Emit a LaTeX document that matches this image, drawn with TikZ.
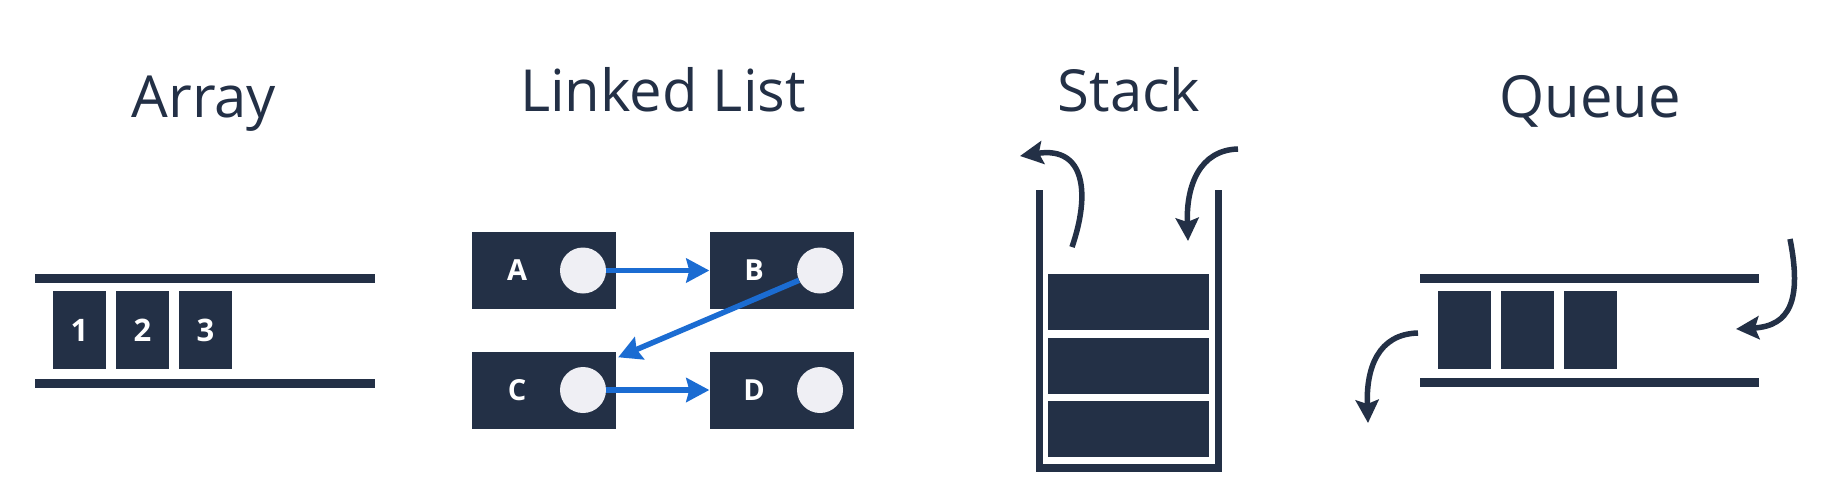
\documentclass[tikz,border=0pt]{standalone}
\usepackage{fontspec}
\setmainfont{Open Sans}
\usetikzlibrary{arrows.meta}
\definecolor{navy}{HTML}{233046}
\definecolor{linkblue}{HTML}{1B6CD2}
\definecolor{dotgray}{HTML}{EFEFF4}
\begin{document}
\begin{tikzpicture}[x=1pt,y=-1pt,
  title/.style={anchor=base,text=navy,font=\fontsize{58}{70}\selectfont},
  rail/.style={draw=navy,line width=9pt},
  wall/.style={draw=navy,line width=7.5pt,line join=miter},
  cell/.style={fill=navy,draw=none,inner sep=0pt,minimum width=53pt,minimum height=78pt,
    text=white,font=\bfseries\fontsize{31}{31}\selectfont},
  nodebox/.style={fill=navy,draw=none,inner sep=0pt,minimum width=144pt,minimum height=77pt},
  letter/.style={text=white,inner sep=0pt,font=\bfseries\fontsize{29}{29}\selectfont},
  dot/.style={circle,fill=dotgray,draw=none,inner sep=0pt,minimum size=46pt},
  stackbox/.style={fill=navy,draw=none,inner sep=0pt,minimum width=161pt,minimum height=56pt},
  link/.style={draw=linkblue,line width=5.5pt,-{Stealth[length=23pt,width=24pt,inset=3pt]}},
  flow/.style={draw=navy,line width=5.5pt,-{Stealth[length=23pt,width=23pt,inset=4pt]}}
]
\useasboundingbox (0,0) rectangle (1830,496);
\fill[white] (0,0) rectangle (1830,496);

% titles
\node[title] (tArray) at (204,117) {Array};
\node[title] (tList) at (663,111) {Linked List};
\node[title] (tStack) at (1129,111) {Stack};
\node[title] (tQueue) at (1590,117) {Queue};

% array
\coordinate (arTL) at (35,278); \coordinate (arTR) at (375,278);
\coordinate (arBL) at (35,383); \coordinate (arBR) at (375,383);
\draw[rail] (arTL) -- (arTR);
\draw[rail] (arBL) -- (arBR);
\node[cell] (a1) at (79.5,330) {1};
\node[cell] (a2) at (142.5,330) {2};
\node[cell] (a3) at (205.5,330) {3};

% linked list
\node[nodebox] (boxA) at (544,270.5) {};
\node[nodebox] (boxB) at (781.5,270.5) {};
\node[nodebox] (boxC) at (544,390) {};
\node[nodebox] (boxD) at (781.5,390) {};
\node[letter] (lA) at (517,270.5) {A};
\node[letter] (lB) at (754,270.5) {B};
\node[letter] (lC) at (517,390) {C};
\node[letter] (lD) at (754,390) {D};
\node[dot] (cA) at (583,270.5) {};
\node[dot] (cB) at (820,270.5) {};
\node[dot] (cC) at (583,390) {};
\node[dot] (cD) at (820,390) {};
\draw[link] (cA.east) -- (boxB.west);
\draw[link] (cB.205) -- ([xshift=2pt,yshift=-6pt]boxC.north east);
\draw[link] (cC.east) -- (boxD.west);

% stack
\coordinate (stL) at (1039.5,190); \coordinate (stLB) at (1039.5,468);
\coordinate (stRB) at (1218.5,468); \coordinate (stR) at (1218.5,190);
\draw[wall] (stL) -- (stLB) -- (stRB) -- (stR);
\node[stackbox] (s1) at (1128.5,302) {};
\node[stackbox] (s2) at (1128.5,366) {};
\node[stackbox] (s3) at (1128.5,429) {};
\coordinate (popS) at (1072,247); \coordinate (popE) at (1020,156);
\draw[flow] (popS) .. controls (1090,195) and (1086,146) .. (popE);
\coordinate (pushS) at (1238,149); \coordinate (pushE) at (1188,241);
\draw[flow] (pushS) .. controls (1200,150) and (1186,185) .. (pushE);

% queue
\coordinate (quTL) at (1420,278); \coordinate (quTR) at (1759,278);
\coordinate (quBL) at (1420,382); \coordinate (quBR) at (1759,382);
\draw[rail] (quTL) -- (quTR);
\draw[rail] (quBL) -- (quBR);
\node[cell] (q1) at (1464,330) {};
\node[cell] (q2) at (1527,330) {};
\node[cell] (q3) at (1590,330) {};
\coordinate (enqS) at (1790,239); \coordinate (enqE) at (1736,329);
\draw[flow] (enqS) .. controls (1802,300) and (1790,326) .. (enqE);
\coordinate (deqS) at (1418,333); \coordinate (deqE) at (1368,423);
\draw[flow] (deqS) .. controls (1378,334) and (1366,368) .. (deqE);
\end{tikzpicture}
\end{document}
